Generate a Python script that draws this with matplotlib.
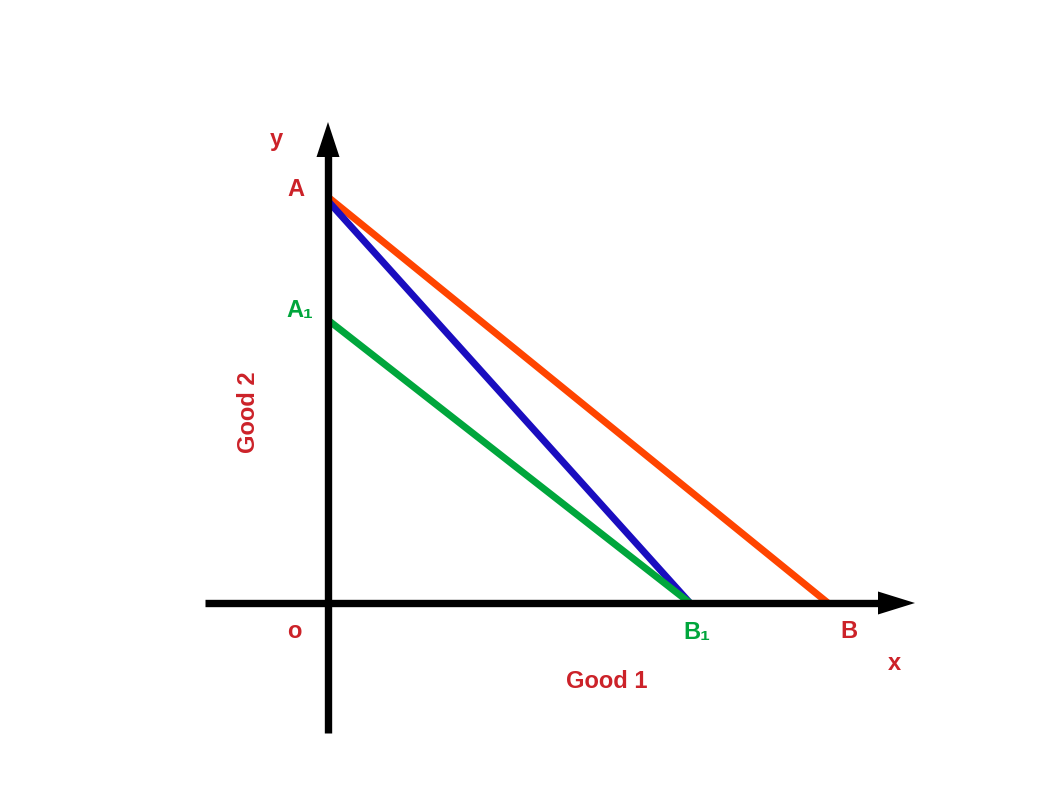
import matplotlib
matplotlib.use("Agg")
import matplotlib.pyplot as plt

plt.rcParams['font.family'] = ['Liberation Sans', 'DejaVu Sans']

# intercepts of the budget lines (quantity units)
A = 8.12      # original y-intercept
A1 = 5.66     # y-intercept after change
B = 10.0      # original x-intercept
B1 = 7.24     # x-intercept after change

lines = [
    ("orange", [0, B], [A, 0], "#ff4400"),
    ("blue", [0, B1], [A - 0.08, 0], "#1a0dbf"),
    ("green", [0, B1], [A1, 0], "#00a63c"),
]

red = "#cc2229"
green = "#00a63c"

fig = plt.figure(figsize=(10.58, 7.94), dpi=100)
ax = fig.add_axes([0, 0, 1, 1])
ax.set_xlim(-6.56, 14.6)
ax.set_ylim(-3.82, 12.06)
ax.axis("off")

# axes with arrowheads
ax.plot([-2.46, 11.2], [0, 0], color="black", lw=5.3, solid_capstyle="butt", zorder=3)
ax.plot([0, 0], [-2.6, 9.1], color="black", lw=5.3, solid_capstyle="butt", zorder=3)
ax.fill([11.0, 11.74, 11.0], [0.23, 0, -0.23], color="black", lw=0, zorder=4)
ax.fill([-0.23, 0, 0.23], [8.92, 9.62, 8.92], color="black", lw=0, zorder=4)

for name, xs, ys, c in lines:
    ax.plot(xs, ys, color=c, lw=5, solid_capstyle="butt", zorder=2)

kw = dict(fontsize=17, fontweight="bold", ha="center", va="center")
ax.text(-1.04, 9.28, "y", color=red, **kw)
ax.text(-0.64, 8.26, "A", color=red, **kw)
ax.text(-0.56, 5.84, "A₁", color=green, **kw)
ax.text(-0.68, -0.58, "o", color=red, **kw)
ax.text(7.38, -0.58, "B₁", color=green, **kw)
ax.text(10.42, -0.58, "B", color=red, **kw)
ax.text(11.32, -1.2, "x", color=red, **kw)
ax.text(5.58, -1.58, "Good 1", color=red, **kw)
ax.text(-1.58, 3.82, "Good 2", color=red, rotation=90, **kw)

fig.savefig("out.png", dpi=100)
